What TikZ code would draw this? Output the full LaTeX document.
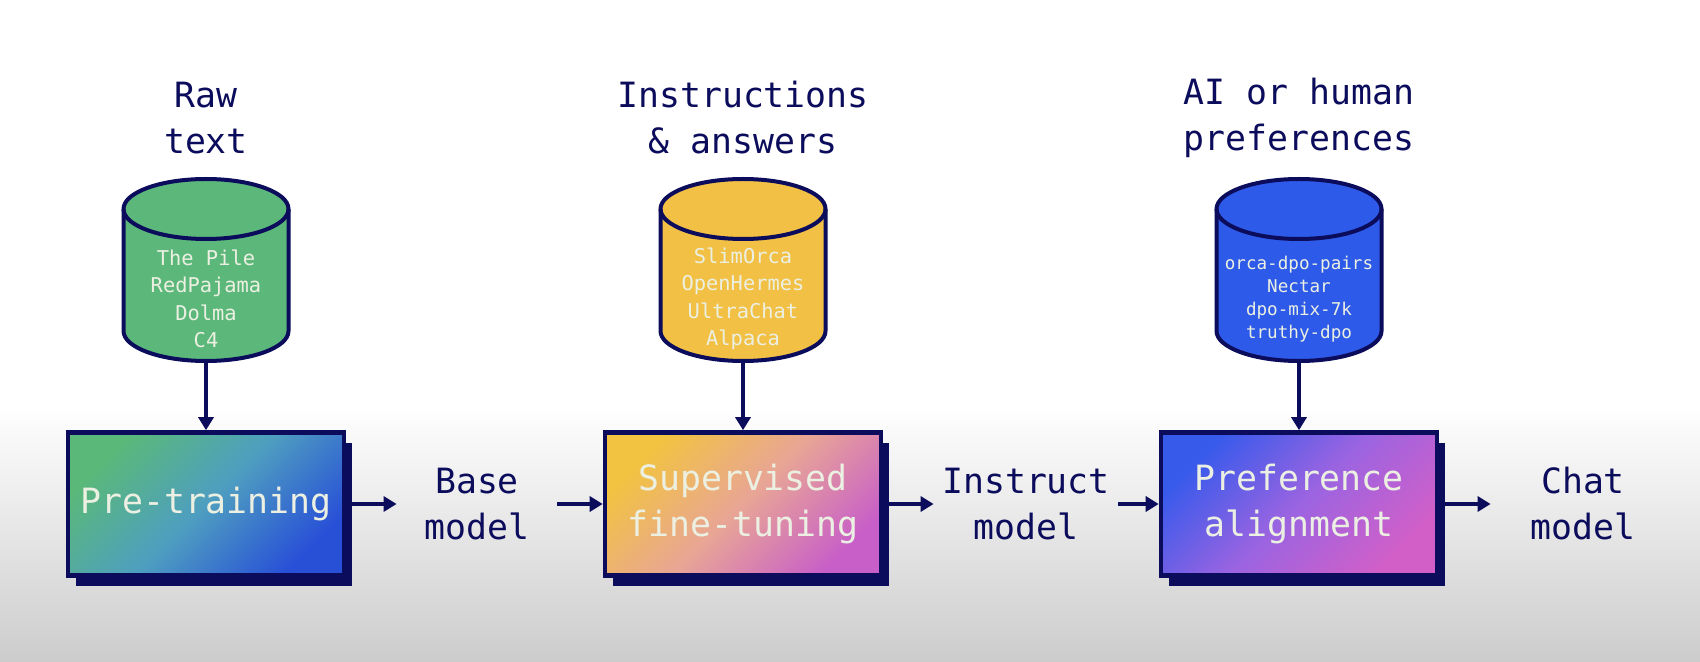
\documentclass[tikz,border=0pt]{standalone}
\usepackage{fontspec}
\setmonofont{DejaVu Sans Mono}
\usetikzlibrary{shadows,arrows.meta}

\definecolor{navy}{RGB}{12,12,92}
\definecolor{paper}{RGB}{236,240,226}
\definecolor{rawgreen}{RGB}{92,184,122}
\definecolor{sftyellow}{RGB}{242,192,68}
\definecolor{prefblue}{RGB}{45,90,232}

\tikzset{
  db/.style={minimum width=82.5pt, minimum height=91pt, inner sep=0pt, outer sep=0pt},
  dbline/.style={draw=navy, line width=2pt},
  dbtext/.style={text=paper, align=center, font=\ttfamily\fontsize{10.2}{13.7}\selectfont},
  stage/.style={draw=navy, line width=2.3pt, minimum width=138pt, minimum height=71.5pt,
    text=paper, align=center, font=\ttfamily\fontsize{17.4}{23}\selectfont,
    drop shadow={shadow xshift=4pt, shadow yshift=-5pt, fill=navy, opacity=1}},
  pregrad/.style={top color={rgb,255:red,90;green,185;blue,120}, bottom color={rgb,255:red,40;green,80;blue,215},
    middle color={rgb,255:red,78;green,158;blue,192}, shading angle=45},
  sftgrad/.style={top color={rgb,255:red,242;green,195;blue,64}, bottom color={rgb,255:red,200;green,95;blue,200},
    middle color={rgb,255:red,232;green,165;blue,150}, shading angle=45},
  prefgrad/.style={top color={rgb,255:red,55;green,90;blue,235}, bottom color={rgb,255:red,210;green,95;blue,200},
    middle color={rgb,255:red,155;green,100;blue,225}, shading angle=45},
  lbl/.style={text=navy, align=center, minimum width=92pt, inner sep=0pt,
    font=\ttfamily\fontsize{17.4}{23}\selectfont},
  flow/.style={draw=navy, line width=2.3pt, -{Triangle[width=7.5pt,length=6.5pt]}}
}

\begin{document}
\begin{tikzpicture}[x=0.5pt, y=-0.5pt]
  \useasboundingbox (0,0) rectangle (1700,662);
  \fill[white] (0,0) rectangle (1700,405);
  \shade[top color=white, bottom color=black!20] (0,405) rectangle (1700,662);

  % data sets
  \node[db] (rawdb) at (206,270) {};
  \node[db] (sftdb) at (743,270) {};
  \node[db] (prefdb) at (1299,270) {};
  \foreach \db/\col in {rawdb/rawgreen, sftdb/sftyellow, prefdb/prefblue} {
    \draw[dbline, fill=\col] ([yshift=-15pt]\db.north west)
      -- ([yshift=15pt]\db.south west)
      arc[start angle=180, end angle=360, x radius=41.25pt, y radius=15pt]
      -- ([yshift=-15pt]\db.north east)
      arc[start angle=0, end angle=180, x radius=41.25pt, y radius=15pt];
    \draw[dbline] ([yshift=-15pt]\db.north west)
      arc[start angle=180, end angle=360, x radius=41.25pt, y radius=15pt];
  }
  \node[dbtext] (rawsets) at ([yshift=-14.5pt] rawdb.center) {The Pile\\RedPajama\\Dolma\\C4};
  \node[dbtext] (sftsets) at ([yshift=-14.5pt] sftdb.center) {SlimOrca\\OpenHermes\\UltraChat\\Alpaca};
  \node[dbtext, font=\ttfamily\fontsize{8.8}{11.5}\selectfont] (prefsets) at ([yshift=-14.5pt] prefdb.center)
    {orca-dpo-pairs\\Nectar\\dpo-mix-7k\\truthy-dpo};

  % headings
  \node[lbl] (rawhead) at (206,118) {Raw\\text};
  \node[lbl] (sfthead) at (743,118) {Instructions\\\& answers};
  \node[lbl] (prefhead) at (1299,118) {AI or human\\preferences};

  % stages
  \node[stage, pregrad] (pretrain) at (206,504) {Pre-training};
  \node[stage, sftgrad] (sft) at (743,504) {Supervised\\fine-tuning};
  \node[stage, prefgrad] (pref) at (1299,504) {Preference\\alignment};

  % models
  \node[lbl, minimum width=80pt] (base) at (477,504) {Base\\model};
  \node[lbl] (instruct) at (1026,504) {Instruct\\model};
  \node[lbl] (chat) at (1583,504) {Chat\\model};

  \draw[flow] (rawdb) -- (pretrain);
  \draw[flow] (sftdb) -- (sft);
  \draw[flow] (prefdb) -- (pref);
  \draw[flow] (pretrain) -- (base);
  \draw[flow] (base) -- (sft);
  \draw[flow] (sft) -- (instruct);
  \draw[flow] (instruct) -- (pref);
  \draw[flow] (pref) -- (chat);
\end{tikzpicture}
\end{document}
